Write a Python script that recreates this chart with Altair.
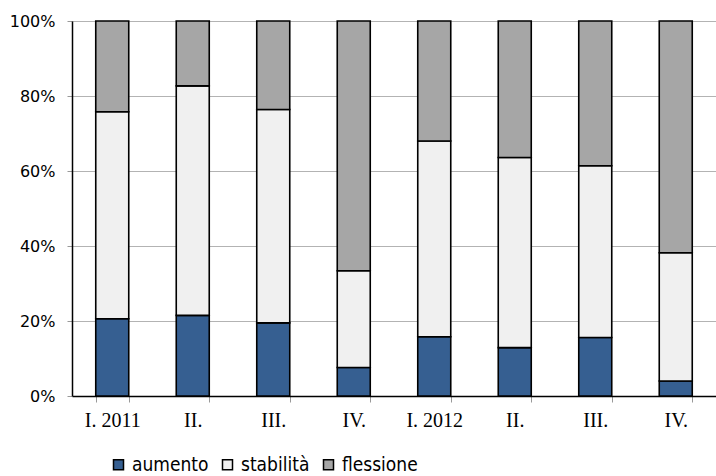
import altair as alt
import pandas as pd

# Quarterly share of responses (percent) by outcome
quarters = ["I. 2011", "II.", "III.", "IV.", "I. 2012", "II. ", "III. ", "IV. "]
aumento = [20.6, 21.5, 19.5, 7.6, 15.8, 12.9, 15.6, 4.0]
stabilita = [55.2, 61.2, 56.9, 25.8, 52.2, 50.7, 45.8, 34.2]
flessione = [24.2, 17.3, 23.6, 66.6, 32.0, 36.4, 38.6, 61.8]

series = ["aumento", "stabilità", "flessione"]
colors = ["#365F91", "#F0F0F0", "#A6A6A6"]

rows = []
for i, q in enumerate(quarters):
    for k, (name, vals) in enumerate(zip(series, [aumento, stabilita, flessione])):
        rows.append({"quarter": q, "serie": name, "ordine": k, "quota": vals[i] / 100.0})
df = pd.DataFrame(rows)

bars = alt.Chart(df).mark_bar(stroke="black", strokeWidth=1.6).encode(
    x=alt.X(
        "quarter:N",
        sort=quarters,
        title=None,
        scale=alt.Scale(paddingInner=0.59, paddingOuter=0.295),
        axis=alt.Axis(
            labelAngle=0,
            labelFont="Liberation Serif",
            labelFontSize=20,
            labelColor="black",
            labelPadding=8,
            tickBand="extent",
            tickSize=6,
            tickColor="#999999",
            domainColor="black",
            domainWidth=1.5,
            grid=False,
            labelExpr="trim(datum.label)",
        ),
    ),
    y=alt.Y(
        "quota:Q",
        stack="zero",
        title=None,
        scale=alt.Scale(domain=[0, 1], nice=False),
        axis=alt.Axis(
            format=".0%",
            values=[0, 0.2, 0.4, 0.6, 0.8, 1.0],
            labelFont="DejaVu Sans",
            labelFontSize=16,
            labelColor="black",
            labelPadding=12,
            tickSize=5,
            tickColor="#999999",
            domainColor="black",
            domainWidth=1.5,
            grid=True,
            gridColor="#666666",
            gridDash=[1, 1],
            gridWidth=1,
        ),
    ),
    color=alt.Color(
        "serie:N",
        sort=series,
        scale=alt.Scale(domain=series, range=colors),
        legend=alt.Legend(
            title=None,
            orient="none",
            legendX=37,
            legendY=434,
            direction="horizontal",
            symbolType="square",
            symbolSize=100,
            symbolStrokeColor="black",
            symbolStrokeWidth=1.5,
            labelFont="DejaVu Sans Condensed",
            labelFontSize=19,
            labelColor="black",
            labelOffset=4,
            columnPadding=9,
            padding=0,
        ),
    ),
    order=alt.Order("ordine:Q", sort="ascending"),
)

chart = bars.properties(
    width=644,
    height=375,
    autosize=alt.AutoSizeParams(type="none"),
    padding={"left": 72, "top": 21, "right": 0, "bottom": 80},
    background="white",
).configure_view(stroke=None)

chart.save("out.html", embed_options={"renderer": "svg", "actions": False})
